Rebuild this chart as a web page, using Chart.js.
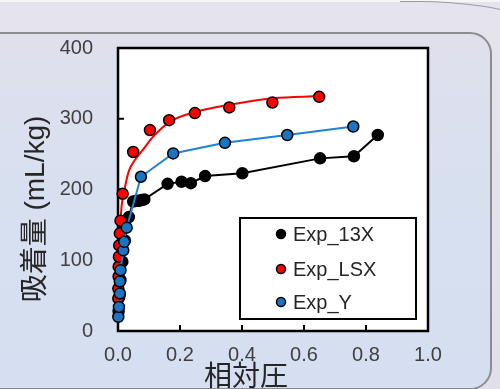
<!DOCTYPE html>
<html>
<head>
<meta charset="utf-8">
<script src="https://cdn.jsdelivr.net/npm/chart.js@4"></script>
<style>
  html, body { margin: 0; padding: 0; }
  body { width: 500px; height: 389px; overflow: hidden; position: relative;
         background: linear-gradient(#e5e3eb, #e1e0ea); }
  #topline { position: absolute; left: 400px; top: 1px; width: 180px; height: 200px;
             border-top: 1.5px solid #9a9aa0; border-top-right-radius: 160px 60px; }
  #topwhite { position: absolute; left: 0; top: 0; width: 500px; height: 2px; background: #f6f6f8; }
  #panel { position: absolute; left: -40px; top: 32px; width: 528px; height: 354px;
           border: 2px solid #8c8c90; border-radius: 22px;
           background: linear-gradient(#e0e0ec, #d8e0f0 40%, #d5dff1); }
  #wrap { position: absolute; left: 0; top: 0; width: 500px; height: 389px; }
</style>
</head>
<body>
<div id="topwhite"></div>
<div id="topline"></div>
<div id="panel"></div>
<div id="wrap"><canvas id="chart" width="500" height="389"></canvas></div>
<script>
/* ── Data ─────────────────────────────────────────────────────────────── */
const x13X = [0.002, 0.004, 0.008, 0.014, 0.022, 0.035, 0.049, 0.060, 0.068, 0.076, 0.085,
              0.160, 0.205, 0.235, 0.281, 0.401, 0.652, 0.761, 0.838];
const y13X = [28, 48, 72, 98, 128, 161, 183, 184, 184, 185, 186,
              208, 211, 209, 219, 223, 244, 247, 277];

const xLSX = [0.001, 0.001, 0.002, 0.002, 0.003, 0.004, 0.006, 0.008, 0.015,
              0.049, 0.103, 0.165, 0.248, 0.359, 0.498, 0.649];
const yLSX = [46, 60, 77, 91, 105, 121, 138, 156, 194,
              253, 284, 298, 308, 316, 323, 331];

const xY = [0.001, 0.003, 0.006, 0.006, 0.008, 0.017, 0.020, 0.028,
            0.074, 0.178, 0.345, 0.546, 0.759];
const yY = [20, 34, 53, 70, 86, 114, 126, 146,
            218, 251, 266, 277, 289];

// fitted curve for LSX
const xFitLSX = [0.001, 0.004, 0.010, 0.022, 0.035, 0.055, 0.080, 0.114, 0.168, 0.254, 0.351, 0.500, 0.649];
const yFitLSX = [45, 110, 168, 202, 226, 242, 256, 275, 296, 310, 319, 329, 332];

const xTickVals = [0, 0.2, 0.4, 0.6, 0.8, 1.0];
const yTickVals = [0, 100, 200, 300, 400];

const seriesNames = ['Exp_13X', 'Exp_LSX', 'Exp_Y'];
const xTitle = '相対圧';
const yTitle = '吸着量 (mL/kg)';

const toPts = (xs, ys) => xs.map((x, i) => ({ x: x, y: ys[i] }));

const RED = '#ff0000';
const BLUE = '#1a74c4';
const BLUE_LINE = '#1f82d2';
const LATIN = '"Liberation Sans", Arial, sans-serif';
const CJK = '"Liberation Sans", "Noto Sans CJK JP", sans-serif';

/* ── Plugins: plot background, frame, legend, titles ──────────────────── */
const framePlugin = {
  id: 'frame',
  beforeDraw(chart) {
    const { ctx, chartArea: a } = chart;
    ctx.save();
    ctx.fillStyle = '#ffffff';
    ctx.fillRect(a.left, a.top, a.right - a.left, a.bottom - a.top);
    ctx.restore();
  },
  beforeDatasetsDraw(chart) {
    const { ctx, chartArea: a, scales } = chart;
    ctx.save();
    ctx.strokeStyle = '#000';
    ctx.lineWidth = 2.5;
    ctx.strokeRect(a.left, a.top, a.right - a.left, a.bottom - a.top);
    ctx.lineWidth = 2;
    ctx.beginPath();
    xTickVals.slice(1, -1).forEach(v => {
      const px = scales.x.getPixelForValue(v);
      ctx.moveTo(px, a.bottom);
      ctx.lineTo(px, a.bottom - 6);
    });
    yTickVals.slice(1, -1).forEach(v => {
      const py = scales.y.getPixelForValue(v);
      ctx.moveTo(a.left, py);
      ctx.lineTo(a.left + 6, py);
    });
    ctx.stroke();
    ctx.restore();
  },
  afterDraw(chart) {
    const { ctx } = chart;
    ctx.save();
    // legend box
    const bx = 240, by = 218, bw = 176, bh = 101;
    ctx.fillStyle = '#fff';
    ctx.fillRect(bx, by, bw, bh);
    ctx.strokeStyle = '#000';
    ctx.lineWidth = 2;
    ctx.strokeRect(bx, by, bw, bh);
    const rows = [234, 269, 302];
    ctx.font = '20px ' + LATIN;
    ctx.textBaseline = 'middle';
    ctx.textAlign = 'left';
    [0, 1, 2].forEach(i => {
      const ds = chart.data.datasets[i];
      ctx.beginPath();
      ctx.arc(281, rows[i], 4.5, 0, Math.PI * 2);
      ctx.fillStyle = ds.pointBackgroundColor;
      ctx.fill();
      ctx.lineWidth = 1.5;
      ctx.strokeStyle = '#000';
      ctx.stroke();
      ctx.fillStyle = '#262626';
      ctx.fillText(seriesNames[i], 293, rows[i] + 1);
    });
    // axis titles
    ctx.fillStyle = '#262626';
    ctx.font = '28px ' + CJK;
    ctx.textAlign = 'center';
    ctx.fillText(xTitle, 246, 378);
    ctx.translate(36, 209);
    ctx.rotate(-Math.PI / 2);
    ctx.fillText(yTitle, 0, 0);
    ctx.restore();
  },
};

/* ── Chart ────────────────────────────────────────────────────────────── */
const pointStyle = (fill) => ({
  pointRadius: 5.5,
  pointHoverRadius: 5.5,
  pointBackgroundColor: fill,
  pointBorderColor: '#000',
  pointBorderWidth: 1.5,
});

new Chart(document.getElementById('chart'), {
  type: 'scatter',
  data: {
    datasets: [
      {
        label: seriesNames[0],
        data: toPts(x13X, y13X),
        showLine: true,
        borderColor: '#000',
        borderWidth: 2,
        ...pointStyle('#000'),
        clip: false,
        order: 3,
      },
      {
        label: seriesNames[1],
        data: toPts(xLSX, yLSX),
        showLine: false,
        ...pointStyle(RED),
        clip: false,
        order: 2,
      },
      {
        label: seriesNames[2],
        data: toPts(xY, yY),
        showLine: true,
        borderColor: BLUE_LINE,
        borderWidth: 2,
        ...pointStyle(BLUE),
        clip: false,
        order: 1,
      },
      {
        label: 'Fit_LSX',
        data: toPts(xFitLSX, yFitLSX),
        showLine: true,
        borderColor: RED,
        borderWidth: 2,
        pointRadius: 0,
        cubicInterpolationMode: 'monotone',
        clip: false,
        order: 4,
      },
    ],
  },
  options: {
    responsive: false,
    animation: false,
    events: [],
    layout: { padding: { top: 48, right: 72, left: 0, bottom: 0 } },
    plugins: { legend: { display: false }, tooltip: { enabled: false } },
    scales: {
      x: {
        type: 'linear',
        min: 0, max: 1,
        afterFit: (s) => { s.height = 58; },
        afterBuildTicks: (s) => { s.ticks = xTickVals.map(v => ({ value: v })); },
        grid: { display: false },
        border: { display: false },
        ticks: {
          color: '#404040',
          font: { size: 20, family: LATIN },
          padding: 4,
          maxRotation: 0,
          callback: (v) => Number(v).toFixed(1),
        },
      },
      y: {
        type: 'linear',
        min: 0, max: 400,
        afterFit: (s) => { s.width = 118; },
        afterBuildTicks: (s) => { s.ticks = yTickVals.map(v => ({ value: v })); },
        grid: { display: false },
        border: { display: false },
        ticks: {
          color: '#404040',
          font: { size: 20, family: LATIN },
          padding: 17,
        },
      },
    },
  },
  plugins: [framePlugin],
});
</script>
</body>
</html>
